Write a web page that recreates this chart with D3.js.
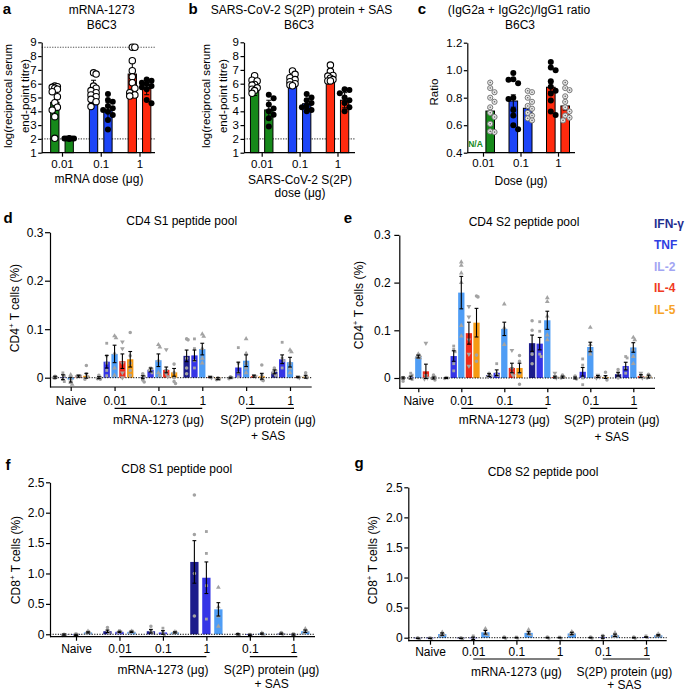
<!DOCTYPE html>
<html><head><meta charset="utf-8">
<script src="https://cdn.jsdelivr.net/npm/d3@7"></script>
<style>body{margin:0;background:#fff} text{font-family:"Liberation Sans",Arial,sans-serif}</style>
</head><body><svg id="fig" width="685" height="691"></svg>
<script>
// ---------------- DATA ----------------
const abDoses = ["0.01", "0.1", "1"];
const titreColors = ["#16891a", "#1d45f7", "#ff2a0e"];
// panel a: mRNA-1273, [bar1 (open), bar2 (filled)] per dose
const aMean = [[4.65, 2.02], [5.4, 4.05], [6.7, 5.65]];
const aSD = [[1.15, 0.02], [0.85, 0.6], [1.1, 0.45]];
const aPts = [
  [[5.83, 5.78, 5.74, 5.67, 5.6, 5.42, 5.06, 4.62, 4.3, 4.09, 3.61, 2.04], [2.02, 2.02, 2.02, 2.02, 2.02, 2.02, 2.02, 2.02, 2.02, 2.02]],
  [[6.79, 6.70, 5.83, 5.67, 5.5, 5.35, 5.18, 5.06, 4.87, 4.70, 4.34], [5.25, 4.82, 4.70, 4.38, 4.22, 4.09, 3.97, 3.73, 3.37, 2.69]],
  [[8.64, 8.64, 7.67, 6.94, 6.5, 6.07, 5.67, 5.35, 5.18, 5.1], [6.31, 6.21, 6.07, 5.98, 5.83, 5.74, 5.6, 4.82, 4.58]]
];
const aLimits = [8.64, 2.0];
// panel b: S(2P) protein + SAS
const bMean = [[5.55, 4.1], [6.05, 4.55], [6.4, 4.8]];
const bSD = [[0.4, 0.7], [0.35, 0.35], [0.35, 0.55]];
const bPts = [
  [[6.58, 6.25, 6.2, 5.95, 5.9, 5.7, 5.6, 5.5, 5.3], [5.2, 4.95, 4.5, 4.2, 4.0, 3.75, 3.5, 2.9]],
  [[6.92, 6.68, 6.44, 6.3, 6.14, 6.0, 5.91, 5.85], [5.25, 5.0, 4.8, 4.6, 4.4, 4.3, 4.1, 4.0]],
  [[7.35, 6.9, 6.6, 6.55, 6.4, 6.3, 6.2, 6.2], [5.6, 5.55, 5.3, 5.0, 4.8, 4.6, 4.3, 4.0]]
];
const bLimits = [2.0];
// panel c: (IgG2a + IgG2c)/IgG1 ratio
const cMean = [[null, 0.703], [0.776, 0.723], [0.876, 0.74]];
const cErr = [[0, 0.02], [0.045, 0.025], [0.03, 0.03]];
const cPts = [
  [[], [0.91, 0.87, 0.84, 0.8, 0.77, 0.73, 0.69, 0.66, 0.61, 0.555, 0.55]],
  [[0.98, 0.935, 0.93, 0.905, 0.8, 0.79, 0.71, 0.67, 0.6, 0.57], [0.85, 0.84, 0.8, 0.77, 0.74, 0.72, 0.69, 0.67, 0.65, 0.635]],
  [[1.06, 1.02, 1.0, 0.92, 0.88, 0.85, 0.83, 0.78, 0.7, 0.675], [0.91, 0.87, 0.855, 0.81, 0.77, 0.73, 0.7, 0.67, 0.655, 0.635]]
];

// T-cell panels
const groupLabels = ["Naive", "0.01", "0.1", "1", "0.1", "1"];
const cytokines = ["IFN-γ", "TNF", "IL-2", "IL-4", "IL-5"];
const cytoColors = ["#1d1d8c", "#3535e6", "#4f9df5", "#ee2b1b", "#f59a14"];
const legendColors = ["#1f2e90", "#2f3ee2", "#a2a5f3", "#f03a22", "#f7a328"];

// d: CD4 S1
const dMean = [
  [0.001, 0.001, -0.004, 0.003, 0.004],
  [0.000, 0.033, 0.049, 0.034, 0.038],
  [0.001, 0.016, 0.036, 0.016, 0.011],
  [0.045, 0.046, 0.059, 0.001, -0.002],
  [0.000, 0.021, 0.035, 0.003, 0.003],
  [0.012, 0.038, 0.032, 0.001, 0.002]];
const dSem = [
  [0.002, 0.005, 0.005, 0.002, 0.005],
  [0.002, 0.013, 0.018, 0.015, 0.016],
  [0.003, 0.004, 0.013, 0.006, 0.008],
  [0.012, 0.011, 0.012, 0.001, 0.002],
  [0.001, 0.011, 0.012, 0.002, 0.006],
  [0.004, 0.009, 0.010, 0.001, 0.003]];
const dPts = [
  [[0.003, 0.001, 0.0, -0.001], [0.01, 0.004, -0.004, -0.008], [0.006, -0.003, -0.01, -0.014], [0.005, 0.003, 0.002], [0.025, 0.008, 0.002, -0.003]],
  [[0.005, 0.001, -0.002, -0.003], [0.071, 0.045, 0.03, 0.015, 0.004], [0.086, 0.082, 0.05, 0.02, 0.005], [0.074, 0.06, 0.03, 0.01, 0.0], [0.093, 0.045, 0.03, 0.015, 0.005]],
  [[0.008, 0.003, -0.005, -0.009], [0.02, 0.018, 0.015, 0.01], [0.068, 0.063, 0.035, 0.01, 0.005], [0.058, 0.015, 0.008, 0.002], [0.028, 0.01, 0.0, -0.008, -0.012]],
  [[0.08, 0.078, 0.04, 0.02, 0.008], [0.08, 0.06, 0.035, 0.02], [0.09, 0.085, 0.06, 0.04, 0.03], [0.002, 0.0], [0.0, -0.003, -0.004]],
  [[0.002, 0.0, -0.002], [0.062, 0.03, 0.01, 0.002], [0.08, 0.05, 0.03, 0.02, 0.01], [0.005, 0.002], [0.026, 0.005, -0.004, -0.006]],
  [[0.02, 0.015, 0.01, 0.005], [0.073, 0.04, 0.035, 0.02], [0.057, 0.053, 0.03, 0.02, 0.01], [0.002, 0.0], [0.01, 0.003, 0.0]]];

// e: CD4 S2
const eMean = [
  [0.000, 0.001, 0.045, 0.014, 0.000],
  [0.000, 0.046, 0.179, 0.094, 0.116],
  [0.006, 0.011, 0.103, 0.021, 0.021],
  [0.073, 0.072, 0.121, 0.002, 0.002],
  [0.000, 0.013, 0.065, 0.003, 0.002],
  [0.008, 0.025, 0.064, 0.004, 0.003]];
const eSem = [
  [0.002, 0.003, 0.003, 0.015, 0.002],
  [0.001, 0.011, 0.034, 0.023, 0.030],
  [0.003, 0.006, 0.014, 0.010, 0.010],
  [0.017, 0.013, 0.019, 0.002, 0.002],
  [0.002, 0.009, 0.010, 0.002, 0.003],
  [0.004, 0.008, 0.010, 0.003, 0.003]];
const ePts = [
  [[0.001, -0.007], [0.01, 0.006, 0.0, -0.003], [0.05, 0.047, 0.044, 0.042], [0.073, 0.005, 0.0, -0.002], [0.006, 0.002, -0.001, -0.004]],
  [[0.001, 0.0, -0.001], [0.067, 0.06, 0.055, 0.03, 0.015], [0.243, 0.236, 0.22, 0.2, 0.11, 0.088], [0.15, 0.128, 0.08, 0.05, 0.025], [0.172, 0.17, 0.048, 0.035]],
  [[0.01, 0.005, 0.002], [0.03, 0.01, 0.005], [0.155, 0.105, 0.07], [0.058, 0.02, 0.01, 0.005], [0.047, 0.035, 0.01, -0.013]],
  [[0.12, 0.1, 0.05, 0.03], [0.118, 0.098, 0.05, 0.045], [0.168, 0.16, 0.13, 0.09, 0.08], [0.01, 0.002, 0.0], [0.006, 0.002, 0.0]],
  [[0.004, -0.002], [0.04, 0.027, 0.0, -0.014], [0.106, 0.07, 0.058, 0.05], [0.006, 0.002, 0.0], [0.012, 0.002, -0.004]],
  [[0.018, 0.01, 0.0], [0.045, 0.042, 0.02, 0.01], [0.085, 0.08, 0.06, 0.045, 0.03], [0.01, 0.003, 0.0], [0.008, 0.003, 0.0]]];

// f: CD8 S1 (IFN-γ, TNF, IL-2)
const fMean = [[-0.005, -0.01, 0.03], [0.05, 0.04, 0.04], [0.05, 0.03, 0.03], [1.19, 0.93, 0.41], [0.0, -0.01, 0.01], [0.01, -0.005, 0.05]];
const fSem = [[0.01, 0.01, 0.01], [0.02, 0.01, 0.01], [0.03, 0.03, 0.01], [0.35, 0.26, 0.11], [0.01, 0.01, 0.01], [0.01, 0.01, 0.02]];
const fPts = [
  [[0.0, -0.01, -0.02], [0.01, -0.01, -0.02], [0.05, 0.03, 0.02]],
  [[0.11, 0.05, 0.02], [0.06, 0.04, 0.03], [0.05, 0.04, 0.03]],
  [[0.13, 0.05, 0.02], [0.1, 0.03, -0.01], [0.04, 0.03, 0.02]],
  [[2.29, 1.64, 1.0, 0.3], [1.69, 1.33, 0.8, 0.25], [0.77, 0.45, 0.3, 0.13]],
  [[0.01, -0.01], [0.0, -0.02], [0.02, 0.0]],
  [[0.03, 0.0], [0.01, -0.01], [0.09, 0.05, 0.02]]];

// g: CD8 S2
const gMean = [[-0.01, -0.01, 0.06], [-0.01, -0.01, 0.09], [0.0, 0.0, 0.08], [0.0, 0.0, 0.07], [0.0, 0.01, 0.04], [0.0, 0.01, 0.04]];
const gSem = [[0.005, 0.005, 0.02], [0.005, 0.02, 0.03], [0.005, 0.005, 0.02], [0.005, 0.005, 0.02], [0.005, 0.02, 0.02], [0.005, 0.005, 0.01]];
const gPts = [
  [[0.0, -0.02], [0.0, -0.02], [0.09, 0.05, 0.04]],
  [[0.0, -0.02], [0.03, -0.03], [0.15, 0.08, 0.05]],
  [[0.01, -0.01], [0.01, -0.01], [0.13, 0.07, 0.05]],
  [[0.01, -0.01], [0.01, -0.01], [0.1, 0.07, 0.05]],
  [[0.01, -0.01], [0.04, -0.02], [0.08, 0.03, 0.02]],
  [[0.01, -0.01], [0.03, 0.0], [0.06, 0.04, 0.03]]];

// ---------------- DRAWING ----------------
const svg = d3.select("#fig");

function txt(x, y, s, o = {}) {
  const t = svg.append("text").attr("x", x).attr("y", y)
    .attr("font-size", o.size || 12).attr("text-anchor", o.anchor || "middle")
    .attr("font-weight", o.weight || "normal").attr("fill", o.fill || "#000");
  if (o.rotate) t.attr("transform", `rotate(-90,${x},${y})`);
  t.text(s);
  return t;
}

function swarm(vals, y, cx, r, maxOff) {
  const placed = [];
  vals.map(v => ({ v, py: y(v) })).sort((a, b) => a.py - b.py).forEach(p => {
    let best = 0, bestD = -1;
    for (let k = 0; k <= 14; k++) {
      const off = k === 0 ? 0 : (k % 2 ? 1 : -1) * Math.ceil(k / 2) * r * 0.8;
      if (Math.abs(off) > maxOff) continue;
      const dmin = placed.length ? d3.min(placed, q => Math.hypot(q.px - (cx + off), q.py - p.py)) : 1e9;
      if (dmin >= r * 1.8) { best = off; bestD = 1e9; break; }
      if (dmin > bestD) { bestD = dmin; best = off; }
    }
    p.px = cx + best; placed.push(p);
  });
  return placed;
}

function errBar(g, cx, y0, y1, cap, w) {
  g.append("line").attr("x1", cx).attr("x2", cx).attr("y1", y0).attr("y2", y1).attr("stroke", "#000").attr("stroke-width", w);
  [y0, y1].forEach(yy => g.append("line").attr("x1", cx - cap).attr("x2", cx + cap).attr("y1", yy).attr("y2", yy).attr("stroke", "#000").attr("stroke-width", w));
}

function styleAxis(sel, fs) {
  sel.selectAll("path,line").attr("stroke", "#000").attr("stroke-width", 1.2);
  sel.selectAll("text").attr("font-size", fs).attr("fill", "#000").attr("font-family", "'Liberation Sans',Arial,sans-serif");
}

// Panels a-c
function titrePanel(o) {
  const g = svg.append("g");
  const y = d3.scaleLinear().domain(o.yDomain).range(o.yRange);
  const x = d3.scalePoint().domain(abDoses).range(o.xRange);
  const yB = o.yRange[0];
  (o.limits || []).forEach(v => g.append("line").attr("x1", o.axisX).attr("x2", o.xEnd)
    .attr("y1", y(v)).attr("y2", y(v)).attr("stroke", "#555").attr("stroke-width", 1.1).attr("stroke-dasharray", "1.3,1.3"));
  o.means.forEach((pair, gi) => pair.forEach((m, bi) => {
    if (m == null) return;
    const cx = x(abDoses[gi]) + (bi ? 1 : -1) * o.off;
    g.append("rect").attr("x", cx - o.bw / 2).attr("y", y(m)).attr("width", o.bw).attr("height", yB - y(m))
      .attr("fill", titreColors[gi]).attr("stroke", "#000").attr("stroke-width", 1);
    const e = o.errs[gi][bi];
    errBar(g, cx, y(m - e), y(m + e), 2.5, 1);
    const style = o.styles[gi][bi];
    const r = style === "open" ? 3.2 : (style === "ring" ? 2.7 : 3);
    swarm(o.pts[gi][bi], y, cx, r, 5).forEach(p => {
      if (style === "open") g.append("circle").attr("cx", p.px).attr("cy", p.py).attr("r", r).attr("fill", "#fff").attr("stroke", "#000").attr("stroke-width", 1.1);
      else if (style === "filled") g.append("circle").attr("cx", p.px).attr("cy", p.py).attr("r", r).attr("fill", "#000");
      else {
        g.append("circle").attr("cx", p.px).attr("cy", p.py).attr("r", 2.6).attr("fill", "#e6e6e6").attr("stroke", "#7a7a7a").attr("stroke-width", 1);
        g.append("circle").attr("cx", p.px).attr("cy", p.py).attr("r", 0.8).attr("fill", "#666");
      }
    });
  }));
  // axes
  const ya = g.append("g").attr("transform", `translate(${o.axisX},0)`)
    .call(d3.axisLeft(y).tickValues(o.yTicks).tickFormat(o.yFmt).tickSize(3.5).tickPadding(1.5).tickSizeOuter(0));
  styleAxis(ya, 11.5);
  g.append("line").attr("x1", o.axisX).attr("x2", o.xEnd).attr("y1", yB).attr("y2", yB).attr("stroke", "#000").attr("stroke-width", 1.2);
  const xa = g.append("g").attr("transform", `translate(0,${yB})`)
    .call(d3.axisBottom(x).tickSize(4).tickPadding(o.xPad).tickSizeOuter(0));
  xa.select(".domain").remove();
  styleAxis(xa, 11.5);
}

titrePanel({ yDomain: [1, 9], yRange: [152.7, 42.3], xRange: [62, 139.5], axisX: 41.7, xEnd: 155, off: 7.2, bw: 8.3,
  means: aMean, errs: aSD, pts: aPts, styles: [["open", "filled"], ["open", "filled"], ["open", "filled"]],
  yTicks: d3.range(1, 10), yFmt: d3.format("d"), limits: aLimits, xPad: 3.1 });
titrePanel({ yDomain: [1, 9], yRange: [152.7, 42.3], xRange: [261.7, 337.5], axisX: 244, xEnd: 355, off: 7.1, bw: 8.3,
  means: bMean, errs: bSD, pts: bPts, styles: [["open", "filled"], ["open", "filled"], ["open", "filled"]],
  yTicks: d3.range(1, 10), yFmt: d3.format("d"), limits: bLimits, xPad: 3.1 });
titrePanel({ yDomain: [0.4, 1.2], yRange: [152.7, 42.7], xRange: [483, 558], axisX: 467.3, xEnd: 575, off: 7.2, bw: 8.6,
  means: cMean, errs: cErr, pts: cPts, styles: [["filled", "ring"], ["filled", "ring"], ["filled", "ring"]],
  yTicks: [0.4, 0.6, 0.8, 1.0, 1.2], yFmt: d3.format(".1f"), xPad: 1.8 });

// panel a-c text
txt(7, 13.5, "a", { size: 15, weight: "bold" });
txt(101.7, 13.5, "mRNA-1273");
txt(101.7, 28.5, "B6C3");
txt(11.5, 96, "log(reciprocal serum", { rotate: true, size: 11.5 });
txt(28.5, 96, "end-point titre)", { rotate: true, size: 11.5 });
txt(99, 183, "mRNA dose (μg)");

txt(193, 13.5, "b", { size: 15, weight: "bold" });
txt(301.5, 13.5, "SARS-CoV-2 S(2P) protein + SAS");
txt(299, 28.5, "B6C3");
txt(209.5, 96, "log(reciprocal serum", { rotate: true, size: 11.5 });
txt(226.5, 96, "end-point titre)", { rotate: true, size: 11.5 });
txt(300, 184, "SARS-CoV-2 S(2P)");
txt(300, 196.5, "dose (μg)");

txt(422, 13.5, "c", { size: 15, weight: "bold" });
txt(519, 13.5, "(IgG2a + IgG2c)/IgG1 ratio");
txt(520, 28.5, "B6C3");
txt(438, 92, "Ratio", { rotate: true, size: 11.5 });
txt(521, 185, "Dose (μg)");
txt(475.5, 146.5, "N/A", { size: 8.5, weight: "bold", fill: titreColors[0] });

// T-cell panels
const shapes = [d3.symbolCircle, d3.symbolSquare, d3.symbolTriangle, "down", d3.symbolCircle];
function tcellPanel(o) {
  const g = svg.append("g");
  const y = d3.scaleLinear().domain(o.yDomain).range(o.yRange);
  const x = d3.scalePoint().domain(d3.range(groupLabels.length)).range(o.xRange);
  const nb = o.means[0].length, mid = (nb - 1) / 2;
  const yB = o.yRange[0], y0 = y(0);
  o.means.forEach((row, gi) => row.forEach((m, bi) => {
    const cx = x(gi) + (bi - mid) * o.step;
    g.append("rect").attr("x", cx - o.bw / 2).attr("y", Math.min(y(m), y0)).attr("width", o.bw)
      .attr("height", Math.abs(y(m) - y0)).attr("fill", cytoColors[bi]);
  }));
  g.append("line").attr("x1", o.axisX).attr("x2", o.xEnd).attr("y1", y0).attr("y2", y0)
    .attr("stroke", "#000").attr("stroke-width", 1).attr("stroke-dasharray", "1.2,1.4");
  o.means.forEach((row, gi) => row.forEach((m, bi) => {
    const cx = x(gi) + (bi - mid) * o.step;
    const sh = shapes[bi];
    const sym = d3.symbol().type(sh === "down" ? d3.symbolTriangle : sh).size(sh === d3.symbolSquare ? 8 : 10);
    swarm(o.pts[gi][bi], y, cx, 1.8, 2.5).forEach(p => {
      g.append("path").attr("d", sym()).attr("fill", "#a3a3a3")
        .attr("transform", `translate(${p.px},${p.py})` + (sh === "down" ? " rotate(180)" : ""));
    });
    const e = o.sems[gi][bi];
    errBar(g, cx, y(m - e), y(m + e), 1.9, 1.1);
  }));
  const ya = g.append("g").attr("transform", `translate(${o.axisX},0)`)
    .call(d3.axisLeft(y).tickValues(o.yTicks).tickFormat(o.yFmt).tickSize(o.yTick).tickPadding(o.yPad).tickSizeOuter(0));
  styleAxis(ya, 12);
  g.append("line").attr("x1", o.axisX).attr("x2", o.xEnd).attr("y1", yB).attr("y2", yB).attr("stroke", "#000").attr("stroke-width", 1.2);
  const xa = g.append("g").attr("transform", `translate(0,${yB})`)
    .call(d3.axisBottom(x).tickFormat(i => groupLabels[i]).tickSize(4).tickPadding(o.xPad).tickSizeOuter(0));
  xa.select(".domain").remove();
  styleAxis(xa, 12);
  // group underlines & labels
  const lY = yB + o.lineDy;
  g.append("line").attr("x1", x(1)).attr("x2", x(3)).attr("y1", lY).attr("y2", lY).attr("stroke", "#000").attr("stroke-width", 1.2);
  g.append("line").attr("x1", x(4)).attr("x2", x(5) + 4).attr("y1", lY).attr("y2", lY).attr("stroke", "#000").attr("stroke-width", 1.2);
  txt((x(1) + x(3)) / 2, yB + o.lab1Dy, "mRNA-1273 (μg)");
  txt((x(4) + x(5)) / 2, yB + o.lab1Dy, "S(2P) protein (μg)");
  txt((x(4) + x(5)) / 2, yB + o.lab2Dy, "+ SAS");
  // title and y label
  txt(o.title[0], o.title[1], o.title[2]);
  const yl = txt(o.ylab[0], o.ylab[1], "", { rotate: true });
  yl.append("tspan").text(o.ylab[2]);
  yl.append("tspan").text("+").attr("font-size", 8).attr("dy", -5);
  yl.append("tspan").text(" T cells (%)").attr("dy", 5);
  txt(o.letter[0], o.letter[1], o.letter[2], { size: 15, weight: "bold" });
}

tcellPanel({ yDomain: [-0.0192, 0.3], yRange: [387, 232.2], xRange: [70.7, 290], axisX: 50, xEnd: 311.7, step: 7.83, bw: 6.3,
  means: dMean, sems: dSem, pts: dPts, yTicks: [0, 0.1, 0.2, 0.3], yFmt: v => v === 0 ? "0" : d3.format(".1f")(v),
  yTick: 5, yPad: 1.5, xPad: 5.2, lineDy: 21.3, lab1Dy: 37, lab2Dy: 53,
  title: [181.7, 224.5, "CD4 S1 peptide pool"], ylab: [18.5, 308, "CD4"], letter: [8, 223.3, "d"] });
tcellPanel({ yDomain: [-0.0216, 0.3], yRange: [388.3, 234.9], xRange: [418.3, 633.3], axisX: 399.3, xEnd: 655, step: 7.6, bw: 6.3,
  means: eMean, sems: eSem, pts: ePts, yTicks: [0, 0.1, 0.2, 0.3], yFmt: v => v === 0 ? "0" : d3.format(".1f")(v),
  yTick: 5, yPad: 3.5, xPad: 4.2, lineDy: 20, lab1Dy: 36, lab2Dy: 52.5,
  title: [524, 225.5, "CD4 S2 peptide pool"], ylab: [363, 305, "CD4"], letter: [348, 223.3, "e"] });
tcellPanel({ yDomain: [-0.04, 2.5], yRange: [636.7, 482.3], xRange: [76, 293.3], axisX: 50, xEnd: 315, step: 12, bw: 8.3,
  means: fMean, sems: fSem, pts: fPts, yTicks: [0, 0.5, 1, 1.5, 2, 2.5], yFmt: v => v === 0 ? "0" : d3.format(".1f")(v),
  yTick: 4, yPad: 1.5, xPad: 3.8, lineDy: 20, lab1Dy: 37.3, lab2Dy: 51.5,
  title: [176.7, 473, "CD8 S1 peptide pool"], ylab: [20, 560, "CD8"], letter: [8, 470, "f"] });
tcellPanel({ yDomain: [-0.05, 2.5], yRange: [640.7, 487.3], xRange: [430, 646], axisX: 408.3, xEnd: 666.7, step: 12.2, bw: 8.3,
  means: gMean, sems: gSem, pts: gPts, yTicks: [0, 0.5, 1, 1.5, 2, 2.5], yFmt: v => v === 0 ? "0" : d3.format(".1f")(v),
  yTick: 4, yPad: 1.5, xPad: 2.8, lineDy: 18.3, lab1Dy: 35.3, lab2Dy: 48.3,
  title: [543, 476, "CD8 S2 peptide pool"], ylab: [376.5, 560, "CD8"], letter: [359, 468, "g"] });

// legend
cytokines.forEach((c, i) => txt(654, 227.5 + i * 21.6, c, { anchor: "start", weight: "bold", fill: legendColors[i], size: 12 }));
</script></body></html>
